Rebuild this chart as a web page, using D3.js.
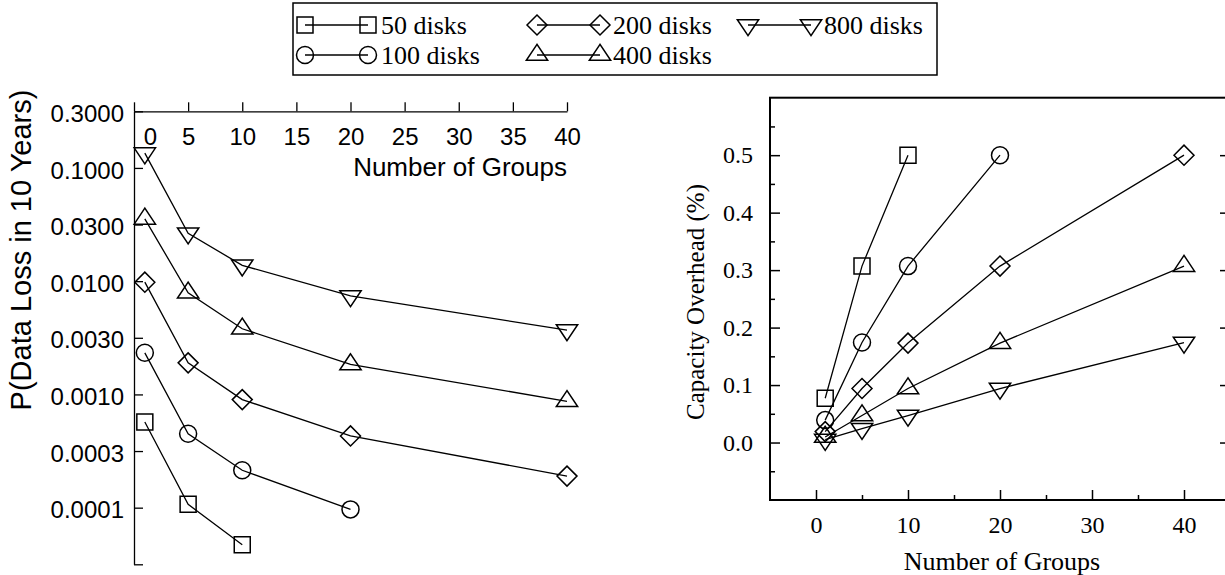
<!DOCTYPE html>
<html>
<head>
<meta charset="utf-8">
<script src="https://cdn.jsdelivr.net/npm/d3@7"></script>
<style>
  body { margin: 0; background: #fff; }
  svg { display: block; }
  .sans { font-family: "Liberation Sans", Arial, sans-serif; }
  .serif { font-family: "Liberation Serif", "Times New Roman", serif; }
</style>
</head>
<body>
<svg id="chart" width="1225" height="575"></svg>
<script>
// Number of groups on the x axis (both panels)
const groupCounts = [1, 5, 10, 20, 40];
const diskLabels = ["50 disks", "100 disks", "200 disks", "400 disks", "800 disks"];

// P(data loss in 10 years)
const loss50  = [0.00057, 0.000107, 0.0000471];
const loss100 = [0.00233, 0.00045, 0.000214, 0.0000966];
const loss200 = [0.0098, 0.0019, 0.0009, 0.00043, 0.00019];
const loss400 = [0.0355, 0.0079, 0.0038, 0.00184, 0.00087];
const loss800 = [0.135, 0.0265, 0.0138, 0.0074, 0.0037];

// Capacity overhead (%)
const overhead50  = [0.077, 0.307, 0.5];
const overhead100 = [0.039, 0.174, 0.307, 0.5];
const overhead200 = [0.019, 0.094, 0.173, 0.307, 0.5];
const overhead400 = [0.0097, 0.047, 0.094, 0.173, 0.307];
const overhead800 = [0.005, 0.024, 0.047, 0.094, 0.174];

// Tick values / labels
const lossTickValues = [0.31623, 0.1, 0.031623, 0.01, 0.0031623, 0.001, 0.00031623, 0.0001, 0.000031623];
const lossTickLabels = ["0.3000", "0.1000", "0.0300", "0.0100", "0.0030", "0.0010", "0.0003", "0.0001", ""];
const topTicks = [0, 5, 10, 15, 20, 25, 30, 35, 40];
const overheadTicks = [0, 0.1, 0.2, 0.3, 0.4, 0.5];
const overheadMinorTicks = [-0.05, 0.05, 0.15, 0.25, 0.35, 0.45, 0.55];
const groupTicks = [0, 10, 20, 30, 40];
const groupMinorTicks = [5, 15, 25, 35];

const shapes = ["square", "circle", "diamond", "triangleUp", "triangleDown"];
const lossValues = [loss50, loss100, loss200, loss400, loss800];
const overheadValues = [overhead50, overhead100, overhead200, overhead400, overhead800];

const series = diskLabels.map((label, i) => ({
  label,
  shape: shapes[i],
  loss: lossValues[i].map((v, j) => ({ x: groupCounts[j], y: v })),
  overhead: overheadValues[i].map((v, j) => ({ x: groupCounts[j], y: v }))
}));

// gnuplot-like point shapes
const H = 8;
function markerPath(shape) {
  const p = d3.path();
  if (shape === "square") {
    p.rect(-H, -H, 2 * H, 2 * H);
  } else if (shape === "circle") {
    p.arc(0, 0, H + 0.5, 0, 2 * Math.PI);
  } else if (shape === "diamond") {
    const d = H * 1.25;
    p.moveTo(-d, 0); p.lineTo(0, -d); p.lineTo(d, 0); p.lineTo(0, d); p.closePath();
  } else if (shape === "triangleUp") {
    p.moveTo(0, -4 * H / 3); p.lineTo(-4 * H / 3, 2 * H / 3); p.lineTo(4 * H / 3, 2 * H / 3); p.closePath();
  } else {
    p.moveTo(0, 4 * H / 3); p.lineTo(-4 * H / 3, -2 * H / 3); p.lineTo(4 * H / 3, -2 * H / 3); p.closePath();
  }
  return p.toString();
}

const svg = d3.select("#chart");

function drawSeries(g, data, x, y) {
  const line = d3.line().x(d => x(d.x)).y(d => y(d.y));
  g.append("path")
    .attr("d", line(data))
    .attr("fill", "none")
    .attr("stroke", "#000")
    .attr("stroke-width", 1.3);
}
function drawMarkers(g, data, shape, x, y) {
  g.selectAll(null)
    .data(data)
    .enter()
    .append("path")
    .attr("transform", d => `translate(${x(d.x)},${y(d.y)})`)
    .attr("d", markerPath(shape))
    .attr("fill", "none")
    .attr("stroke", "#000")
    .attr("stroke-width", 1.5);
}

// ---------- Left panel: loss probability ----------
const xL = d3.scaleLinear().domain([0, 40]).range([134, 567]);
const yL = d3.scaleLog().domain([Math.pow(10, -4.5), Math.pow(10, -0.5)]).range([564.3, 111.3]);

const left = svg.append("g").attr("class", "sans");

const topAxis = left.append("g")
  .attr("transform", `translate(0,${yL.range()[1]})`)
  .call(d3.axisBottom(xL).tickValues(topTicks).tickSize(-9).tickSizeOuter(0).tickPadding(17));
topAxis.selectAll("text")
  .attr("dx", d => d === 0 ? 16 : 0)
  .style("font-size", "24px");

const leftAxis = left.append("g")
  .attr("transform", `translate(${xL.range()[0]},0)`)
  .call(d3.axisLeft(yL).tickValues(lossTickValues).tickSize(-9).tickSizeOuter(0).tickPadding(10)
    .tickFormat((d, i) => lossTickLabels[i]));
leftAxis.selectAll("text").attr("dy", "0.42em").style("font-size", "24px");

[topAxis, leftAxis].forEach(a => {
  a.attr("font-family", null).attr("font-size", null);
  a.selectAll("path, line").attr("stroke", "#000").attr("stroke-width", 1.3);
  a.selectAll("text").attr("fill", "#000");
});

left.append("text")
  .attr("x", 567)
  .attr("y", 176)
  .attr("text-anchor", "end")
  .style("font-size", "26px")
  .text("Number of Groups");

left.append("text")
  .attr("transform", "translate(31,250) rotate(-90)")
  .attr("text-anchor", "middle")
  .style("font-size", "29px")
  .text("P(Data Loss in 10 Years)");

series.forEach(s => {
  drawSeries(left, s.loss, xL, yL);
  drawMarkers(left, s.loss, s.shape, xL, yL);
});

// ---------- Right panel: capacity overhead ----------
const xR = d3.scaleLinear().domain([-5, 45]).range([770, 1230]);
const yR = d3.scaleLinear().domain([-0.1, 0.6]).range([500, 97.7]);

const right = svg.append("g").attr("class", "serif");

const bottomAxis = right.append("g")
  .attr("transform", `translate(0,${yR.range()[0]})`)
  .call(d3.axisBottom(xR).tickValues(groupTicks).tickSize(-10).tickSizeOuter(0).tickPadding(16));
const bottomMinor = right.append("g")
  .attr("transform", `translate(0,${yR.range()[0]})`)
  .call(d3.axisBottom(xR).tickValues(groupMinorTicks).tickSize(-5).tickSizeOuter(0).tickFormat(""));
const yAxisR = right.append("g")
  .attr("transform", `translate(${xR.range()[0]},0)`)
  .call(d3.axisLeft(yR).tickValues(overheadTicks).tickSize(-10).tickSizeOuter(0).tickPadding(17)
    .tickFormat(d3.format(".1f")));
const yMinorR = right.append("g")
  .attr("transform", `translate(${xR.range()[0]},0)`)
  .call(d3.axisLeft(yR).tickValues(overheadMinorTicks).tickSize(-5).tickSizeOuter(0).tickFormat(""));
const yMirrorR = right.append("g")
  .attr("transform", `translate(${xR.range()[1]},0)`)
  .call(d3.axisRight(yR).tickValues(overheadTicks).tickSize(-10).tickSizeOuter(0).tickFormat(""));

[bottomAxis, bottomMinor, yAxisR, yMinorR, yMirrorR].forEach(a => {
  a.attr("font-family", null).attr("font-size", null);
  a.select(".domain").remove();
  a.selectAll("line").attr("stroke", "#000").attr("stroke-width", 1.5);
  a.selectAll("text").attr("fill", "#000").style("font-size", "24px");
});

right.append("rect")
  .attr("x", xR.range()[0])
  .attr("y", yR.range()[1])
  .attr("width", xR.range()[1] - xR.range()[0])
  .attr("height", yR.range()[0] - yR.range()[1])
  .attr("fill", "none")
  .attr("stroke", "#000")
  .attr("stroke-width", 2);

right.append("text")
  .attr("x", 1002)
  .attr("y", 570)
  .attr("text-anchor", "middle")
  .style("font-size", "26px")
  .text("Number of Groups");

right.append("text")
  .attr("transform", "translate(704,302) rotate(-90)")
  .attr("text-anchor", "middle")
  .style("font-size", "25px")
  .text("Capacity Overhead (%)");

series.forEach(s => {
  drawSeries(right, s.overhead, xR, yR);
  drawMarkers(right, s.overhead, s.shape, xR, yR);
});

// ---------- Legend ----------
const legend = svg.append("g").attr("class", "serif");
legend.append("rect")
  .attr("x", 293).attr("y", 3)
  .attr("width", 644).attr("height", 72)
  .attr("fill", "none")
  .attr("stroke", "#000")
  .attr("stroke-width", 1.5);

const legendCols = [305, 537, 748];
const legendRows = [25, 55];
const sampleLen = 63;

series.forEach((s, i) => {
  const cx = legendCols[Math.floor(i / 2)];
  const cy = legendRows[i % 2];
  const g = legend.append("g");
  g.append("line")
    .attr("x1", cx).attr("x2", cx + sampleLen)
    .attr("y1", cy).attr("y2", cy)
    .attr("stroke", "#000").attr("stroke-width", 1.3);
  [cx, cx + sampleLen].forEach(px => {
    g.append("path")
      .attr("transform", `translate(${px},${cy})`)
      .attr("d", markerPath(s.shape))
      .attr("fill", "none")
      .attr("stroke", "#000")
      .attr("stroke-width", 1.5);
  });
  g.append("text")
    .attr("x", cx + sampleLen + 13)
    .attr("y", cy)
    .attr("dy", "0.35em")
    .style("font-size", "26px")
    .text(s.label);
});
</script>
</body>
</html>
